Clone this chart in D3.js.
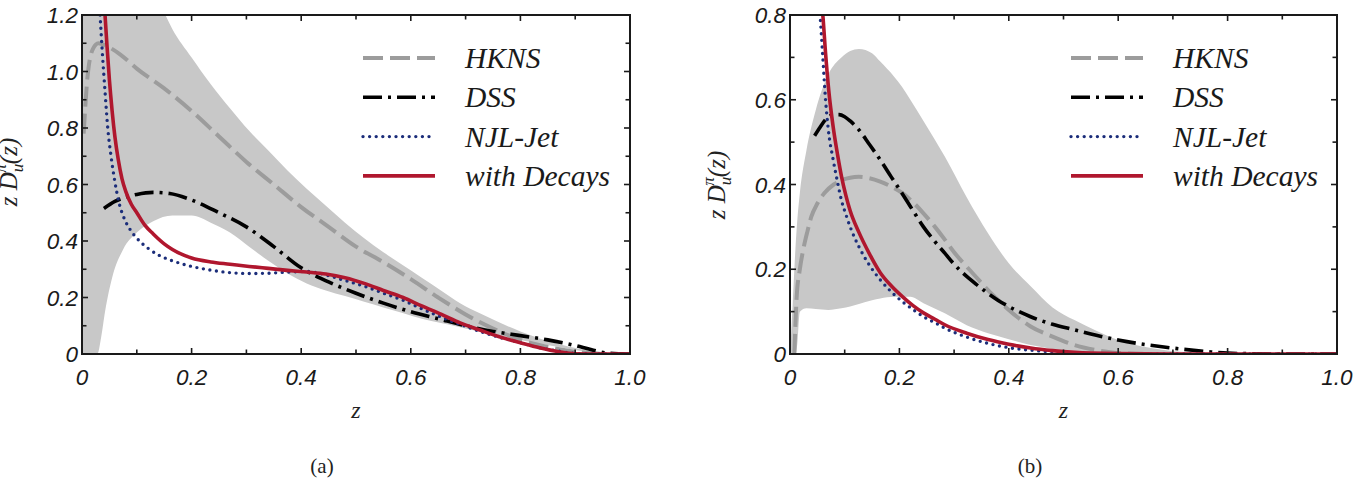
<!DOCTYPE html>
<html><head><meta charset="utf-8">
<script src="https://cdn.jsdelivr.net/npm/d3@7"></script>
<style>body{margin:0;background:#fff}svg{display:block}</style>
</head><body>
<svg id="chart" width="1359" height="488"></svg>
<script>
// ---------- DATA ----------
const xTicks = [0, 0.2, 0.4, 0.6, 0.8, 1.0];
const xTickLabels = ["0", "0.2", "0.4", "0.6", "0.8", "1.0"];
const yTicksA = [0, 0.2, 0.4, 0.6, 0.8, 1.0, 1.2];
const yTickLabelsA = ["0", "0.2", "0.4", "0.6", "0.8", "1.0", "1.2"];
const yTicksB = [0, 0.2, 0.4, 0.6, 0.8];
const yTickLabelsB = ["0", "0.2", "0.4", "0.6", "0.8"];
const legendLabels = ["HKNS", "DSS", "NJL-Jet", "with Decays"];
const panelCaptions = ["(a)", "(b)"];

// panel (a)
const bandA_z = [0, 0.02, 0.028, 0.035, 0.042, 0.055, 0.075, 0.1, 0.13, 0.165, 0.2, 0.235, 0.27, 0.305, 0.34, 0.375, 0.41, 0.445, 0.48, 0.515, 0.55, 0.585, 0.62, 0.655, 0.69, 0.725, 0.8, 0.87, 0.94, 1.0];
const bandA_hi = [1.9, 1.85, 1.82, 1.8, 1.76, 1.68, 1.58, 1.45, 1.3, 1.15, 1.05, 0.955, 0.87, 0.79, 0.72, 0.65, 0.585, 0.525, 0.465, 0.41, 0.36, 0.315, 0.27, 0.225, 0.18, 0.145, 0.08, 0.035, 0.008, 0];
const bandA_lo = [0, 0, 0, 0.06, 0.15, 0.27, 0.37, 0.43, 0.47, 0.49, 0.49, 0.465, 0.43, 0.38, 0.33, 0.285, 0.25, 0.225, 0.205, 0.185, 0.165, 0.145, 0.125, 0.11, 0.095, 0.08, 0.05, 0.025, 0.004, 0];
const hknsA_z = [0.003, 0.01, 0.02, 0.03, 0.045, 0.07, 0.1, 0.15, 0.2, 0.25, 0.3, 0.35, 0.4, 0.45, 0.5, 0.55, 0.6, 0.65, 0.7, 0.75, 0.8, 0.85, 0.9, 0.95];
const hknsA_v = [0.78, 0.98, 1.08, 1.1, 1.09, 1.06, 1.01, 0.94, 0.86, 0.77, 0.68, 0.6, 0.52, 0.45, 0.38, 0.325, 0.265, 0.2, 0.14, 0.09, 0.05, 0.025, 0.008, 0];
const dssA_z = [0.04, 0.06, 0.08, 0.1, 0.13, 0.16, 0.2, 0.25, 0.3, 0.35, 0.4, 0.45, 0.5, 0.55, 0.6, 0.65, 0.7, 0.75, 0.8, 0.85, 0.9, 0.93, 0.96, 1.0];
const dssA_v = [0.515, 0.54, 0.555, 0.565, 0.572, 0.568, 0.545, 0.5, 0.45, 0.38, 0.305, 0.255, 0.215, 0.18, 0.15, 0.125, 0.1, 0.08, 0.065, 0.05, 0.03, 0.015, 0.003, 0];
const njlA_z = [0.031, 0.033, 0.037, 0.042, 0.047, 0.053, 0.06, 0.067, 0.077, 0.088, 0.1, 0.12, 0.14, 0.165, 0.2, 0.235, 0.27, 0.305, 0.34, 0.375, 0.41, 0.445, 0.48, 0.515, 0.55, 0.586, 0.62, 0.656, 0.69, 0.726, 0.76, 0.8, 0.835, 0.87, 0.9, 0.95, 1.0];
const njlA_v = [1.27, 1.2, 1.07, 0.93, 0.8, 0.7, 0.61, 0.54, 0.48, 0.44, 0.41, 0.375, 0.35, 0.33, 0.31, 0.297, 0.288, 0.285, 0.286, 0.29, 0.292, 0.28, 0.26, 0.24, 0.215, 0.19, 0.16, 0.13, 0.105, 0.08, 0.06, 0.04, 0.022, 0.01, 0.002, 0, 0];
const decA_z = [0.04, 0.042, 0.046, 0.05, 0.055, 0.06, 0.066, 0.073, 0.08, 0.09, 0.1, 0.115, 0.13, 0.15, 0.165, 0.2, 0.235, 0.27, 0.305, 0.34, 0.375, 0.41, 0.445, 0.48, 0.515, 0.55, 0.586, 0.62, 0.656, 0.69, 0.726, 0.76, 0.8, 0.835, 0.87, 0.9, 0.95, 1.0];
const decA_v = [1.27, 1.2, 1.08, 0.97, 0.86, 0.77, 0.69, 0.62, 0.575, 0.53, 0.5, 0.455, 0.425, 0.39, 0.37, 0.34, 0.326, 0.318, 0.31, 0.303, 0.296, 0.29, 0.283, 0.27, 0.25, 0.225, 0.2, 0.17, 0.14, 0.11, 0.085, 0.062, 0.04, 0.022, 0.008, 0.001, 0, 0];

// panel (b)
const bandB_z = [0, 0.005, 0.01, 0.013, 0.018, 0.03, 0.047, 0.07, 0.094, 0.11, 0.126, 0.15, 0.165, 0.19, 0.205, 0.22, 0.244, 0.283, 0.323, 0.362, 0.4, 0.44, 0.48, 0.52, 0.56, 0.6, 0.68, 0.76, 0.85, 1.0];
const bandB_hi = [0, 0.12, 0.25, 0.31, 0.38, 0.48, 0.575, 0.66, 0.70, 0.715, 0.72, 0.71, 0.69, 0.655, 0.63, 0.6, 0.55, 0.466, 0.37, 0.285, 0.214, 0.16, 0.11, 0.08, 0.055, 0.033, 0.01, 0.002, 0, 0];
const bandB_lo = [0, 0, 0, 0.02, 0.1, 0.108, 0.106, 0.104, 0.108, 0.112, 0.118, 0.127, 0.131, 0.135, 0.135, 0.135, 0.12, 0.096, 0.068, 0.049, 0.035, 0.021, 0.012, 0.006, 0.002, 0, 0, 0, 0, 0];
const hknsB_z = [0.008, 0.012, 0.018, 0.024, 0.032, 0.039, 0.05, 0.063, 0.08, 0.094, 0.11, 0.126, 0.145, 0.165, 0.185, 0.205, 0.225, 0.244, 0.265, 0.283, 0.3, 0.323, 0.345, 0.362, 0.38, 0.4, 0.44, 0.48, 0.52, 0.56, 0.6, 0.65];
const hknsB_v = [0, 0.13, 0.2, 0.245, 0.29, 0.324, 0.355, 0.38, 0.4, 0.41, 0.416, 0.418, 0.415, 0.407, 0.395, 0.38, 0.358, 0.332, 0.3, 0.27, 0.24, 0.206, 0.175, 0.151, 0.128, 0.104, 0.065, 0.041, 0.021, 0.009, 0.002, 0];
const dssB_z = [0.045, 0.055, 0.063, 0.071, 0.08, 0.09, 0.1, 0.11, 0.126, 0.145, 0.165, 0.185, 0.205, 0.225, 0.244, 0.265, 0.283, 0.3, 0.323, 0.345, 0.362, 0.38, 0.4, 0.44, 0.48, 0.52, 0.56, 0.6, 0.64, 0.68, 0.72, 0.76, 0.8, 0.85, 0.9, 1.0];
const dssB_v = [0.515, 0.535, 0.55, 0.56, 0.565, 0.565, 0.56, 0.55, 0.529, 0.495, 0.458, 0.418, 0.379, 0.338, 0.30, 0.265, 0.238, 0.212, 0.183, 0.16, 0.143, 0.127, 0.112, 0.088, 0.07, 0.057, 0.044, 0.033, 0.024, 0.017, 0.011, 0.006, 0.002, 0.0005, 0, 0];
const njlB_z = [0.05, 0.055, 0.06, 0.065, 0.07, 0.079, 0.087, 0.094, 0.102, 0.11, 0.126, 0.145, 0.165, 0.185, 0.205, 0.225, 0.244, 0.265, 0.283, 0.323, 0.362, 0.4, 0.44, 0.48, 0.52, 0.6, 0.7, 0.8, 1.0];
const njlB_v = [0.88, 0.8, 0.7, 0.6, 0.53, 0.458, 0.405, 0.363, 0.33, 0.30, 0.253, 0.21, 0.175, 0.147, 0.124, 0.105, 0.088, 0.074, 0.061, 0.04, 0.025, 0.015, 0.009, 0.005, 0.002, 0, 0, 0, 0];
const decB_z = [0.057, 0.06, 0.065, 0.071, 0.079, 0.087, 0.094, 0.102, 0.11, 0.126, 0.145, 0.165, 0.185, 0.205, 0.225, 0.244, 0.265, 0.283, 0.323, 0.362, 0.4, 0.44, 0.48, 0.52, 0.6, 0.7, 0.8, 1.0];
const decB_v = [0.84, 0.8, 0.71, 0.62, 0.535, 0.47, 0.42, 0.375, 0.338, 0.287, 0.237, 0.192, 0.161, 0.136, 0.114, 0.097, 0.082, 0.069, 0.049, 0.034, 0.023, 0.014, 0.008, 0.004, 0.001, 0, 0, 0];

// ---------- DRAW ----------
const svg = d3.select("#chart");
const zip = (a, b) => a.map((d, i) => [d, b[i]]);
const styles = {
  band: "#c8c8c8",
  hkns: {stroke: "#9c9c9c", width: 4, dash: "20,7", cap: "butt"},
  dss: {stroke: "#000", width: 3.6, dash: "19,6,3,6", cap: "butt"},
  njl: {stroke: "#1b2d7a", width: 3.4, dash: "0,6.6", cap: "round"},
  dec: {stroke: "#b0172e", width: 3.6, dash: null, cap: "butt"}
};

function panel(cfg) {
  const x = d3.scaleLinear().domain([0, 1]).range([cfg.x0, cfg.x1]);
  const y = d3.scaleLinear().domain([0, cfg.yMax]).range([cfg.yb, cfg.yt]);
  const g = svg.append("g");
  const cid = "clip" + cfg.id;
  svg.append("defs").append("clipPath").attr("id", cid)
    .append("rect").attr("x", cfg.x0).attr("y", cfg.yt)
    .attr("width", cfg.x1 - cfg.x0).attr("height", cfg.yb - cfg.yt);
  const plot = g.append("g").attr("clip-path", `url(#${cid})`);

  const area = d3.area().x(d => x(d[0])).y0(d => y(d[1])).y1(d => y(d[2])).curve(d3.curveMonotoneX);
  plot.append("path").datum(cfg.band.z.map((z, i) => [z, cfg.band.lo[i], cfg.band.hi[i]]))
    .attr("d", area).attr("fill", styles.band);

  const line = d3.line().x(d => x(d[0])).y(d => y(d[1])).curve(d3.curveMonotoneX);
  cfg.series.forEach(s => {
    const st = styles[s.key];
    plot.append("path").datum(zip(s.z, s.v)).attr("d", line)
      .attr("fill", "none").attr("stroke", st.stroke).attr("stroke-width", st.width)
      .attr("stroke-dasharray", st.dash).attr("stroke-linecap", st.cap)
      .attr("stroke-linejoin", "round");
  });

  // frame
  g.append("rect").attr("x", cfg.x0).attr("y", cfg.yt)
    .attr("width", cfg.x1 - cfg.x0).attr("height", cfg.yb - cfg.yt)
    .attr("fill", "none").attr("stroke", "#1a1a1a").attr("stroke-width", 2);

  // ticks (inward, all four sides)
  const xMinor = d3.range(0, 11).map(i => i / 10);
  const yMinor = d3.range(0, Math.round(cfg.yMax * 10) + 1).map(i => i / 10);
  const tk = g.append("g").attr("stroke", "#1a1a1a").attr("stroke-width", 1.6);
  xMinor.forEach((v, i) => {
    const L = i % 2 === 0 ? 6 : 4.5;
    tk.append("line").attr("x1", x(v)).attr("x2", x(v)).attr("y1", cfg.yb).attr("y2", cfg.yb - L);
    tk.append("line").attr("x1", x(v)).attr("x2", x(v)).attr("y1", cfg.yt).attr("y2", cfg.yt + L);
  });
  yMinor.forEach((v, i) => {
    const L = i % 2 === 0 ? 6 : 4.5;
    tk.append("line").attr("y1", y(v)).attr("y2", y(v)).attr("x1", cfg.x0).attr("x2", cfg.x0 + L);
    tk.append("line").attr("y1", y(v)).attr("y2", y(v)).attr("x1", cfg.x1).attr("x2", cfg.x1 - L);
  });

  // tick labels
  const lab = g.append("g").attr("font-family", "'Liberation Sans', Arial, sans-serif")
    .attr("font-style", "italic").attr("font-size", 22.5).attr("fill", "#1a1a1a");
  xTicks.forEach((v, i) => lab.append("text").attr("x", x(v)).attr("y", cfg.yb + 31)
    .attr("text-anchor", "middle").text(xTickLabels[i]));
  cfg.yTicks.forEach((v, i) => lab.append("text").attr("x", cfg.x0 - 4).attr("y", y(v) + 8)
    .attr("text-anchor", "end").text(cfg.yTickLabels[i]));

  // axis titles
  const serif = "'Liberation Serif', 'Times New Roman', serif";
  g.append("text").attr("x", (cfg.x0 + cfg.x1) / 2).attr("y", cfg.yb + 64)
    .attr("text-anchor", "middle").attr("font-family", serif).attr("font-style", "italic")
    .attr("font-size", 24).attr("fill", "#222").text("z");
  const yl = g.append("text").attr("transform", `translate(${cfg.x0 - 65},${cfg.yLabelMid}) rotate(-90)`)
    .attr("text-anchor", "middle").attr("font-family", serif).attr("font-style", "italic")
    .attr("font-size", 25).attr("fill", "#222");
  yl.append("tspan").text("z D");
  yl.append("tspan").attr("dy", 6).attr("font-size", 17).text("u");
  yl.append("tspan").attr("dx", -9).attr("dy", -17).attr("font-size", 17).text("π");
  yl.append("tspan").attr("dy", 11).text("(z)");

  // legend
  const keys = ["hkns", "dss", "njl", "dec"];
  keys.forEach((k, i) => {
    const st = styles[k];
    const ly = cfg.yt + 43 + i * 39.3;
    g.append("line").attr("x1", cfg.x0 + 281).attr("x2", cfg.x0 + 353).attr("y1", ly).attr("y2", ly)
      .attr("stroke", st.stroke).attr("stroke-width", st.width)
      .attr("stroke-dasharray", st.dash).attr("stroke-linecap", st.cap);
    g.append("text").attr("x", cfg.x0 + 383).attr("y", ly + 10)
      .attr("font-family", serif).attr("font-style", "italic").attr("font-size", 29.5)
      .attr("fill", "#1a1a1a").text(legendLabels[i]);
  });

  // caption
  svg.append("text").attr("x", cfg.capX).attr("y", 473).attr("text-anchor", "middle")
    .attr("font-family", serif).attr("font-size", 21).attr("fill", "#222").text(cfg.caption);
}

panel({
  id: "A", x0: 82, x1: 630, yt: 15, yb: 354, yMax: 1.2, yLabelMid: 172,
  yTicks: yTicksA, yTickLabels: yTickLabelsA, capX: 322, caption: panelCaptions[0],
  band: {z: bandA_z, lo: bandA_lo, hi: bandA_hi},
  series: [
    {key: "hkns", z: hknsA_z, v: hknsA_v},
    {key: "dss", z: dssA_z, v: dssA_v},
    {key: "njl", z: njlA_z, v: njlA_v},
    {key: "dec", z: decA_z, v: decA_v}
  ]
});
panel({
  id: "B", x0: 790, x1: 1337, yt: 15, yb: 354, yMax: 0.8, yLabelMid: 185,
  yTicks: yTicksB, yTickLabels: yTickLabelsB, capX: 1030, caption: panelCaptions[1],
  band: {z: bandB_z, lo: bandB_lo, hi: bandB_hi},
  series: [
    {key: "hkns", z: hknsB_z, v: hknsB_v},
    {key: "dss", z: dssB_z, v: dssB_v},
    {key: "njl", z: njlB_z, v: njlB_v},
    {key: "dec", z: decB_z, v: decB_v}
  ]
});
</script>
</body></html>
